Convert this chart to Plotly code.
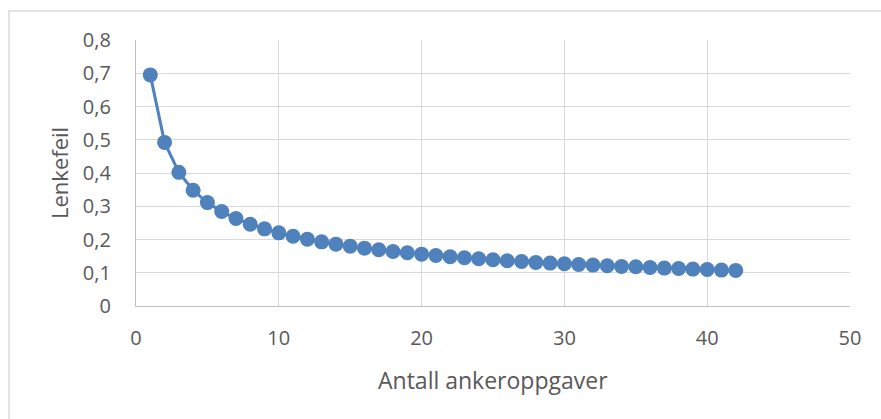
import plotly.graph_objects as go

antall = list(range(1, 43))
lenkefeil = [0.695, 0.492, 0.402, 0.348, 0.311, 0.284, 0.263, 0.246, 0.232, 0.220,
             0.210, 0.201, 0.193, 0.186, 0.180, 0.174, 0.169, 0.164, 0.160, 0.156,
             0.152, 0.148, 0.145, 0.142, 0.139, 0.136, 0.134, 0.131, 0.129, 0.127,
             0.125, 0.123, 0.121, 0.119, 0.118, 0.116, 0.114, 0.113, 0.111, 0.110,
             0.108, 0.107]
x_title = "Antall ankeroppgaver"
y_title = "Lenkefeil"

W, H = 881, 419
L, R, T, B = 136, 31, 40, 113
pw, ph = W - L - R, H - T - B

fig = go.Figure()
fig.add_trace(go.Scatter(
    x=antall, y=lenkefeil, mode="lines+markers",
    line=dict(color="#4f81bd", width=3),
    marker=dict(color="#4f81bd", size=15),
    cliponaxis=False, showlegend=False))

font = dict(family="Open Sans, Liberation Sans, sans-serif", color="#595959")
fig.update_layout(
    width=W, height=H, margin=dict(l=L, r=R, t=T, b=B),
    paper_bgcolor="white", plot_bgcolor="white",
    separators=", ",
    font=font,
    xaxis=dict(range=[0, 50], tick0=0, dtick=10, showgrid=True, gridcolor="#d9d9d9",
               gridwidth=1.3, zeroline=False, showline=True, linecolor="#bfbfbf", linewidth=1.3,
               ticks="", tickfont=dict(size=20, color="#595959"), ticklabelstandoff=14),
    yaxis=dict(range=[0, 0.8], tick0=0, dtick=0.1, showgrid=True, gridcolor="#d9d9d9",
               gridwidth=1.3, zeroline=False, showline=True, linecolor="#bfbfbf", linewidth=1.3,
               ticks="", tickfont=dict(size=20, color="#595959"), tickformat=".1~f",
               ticklabelstandoff=20),
)
fig.add_annotation(text=x_title, xref="paper", yref="paper", showarrow=False,
                   x=0.5, y=-(380 - (H - B)) / ph, xanchor="center", yanchor="middle",
                   font=dict(size=23, color="#595959"))
fig.add_annotation(text=y_title, xref="paper", yref="paper", showarrow=False,
                   x=(59 - L) / pw, y=0.5, xanchor="center", yanchor="middle", textangle=-90,
                   font=dict(size=22, color="#595959"))
fig.add_shape(type="rect", xref="paper", yref="paper",
              x0=(9 - L) / pw, x1=(890 - L) / pw,
              y0=-(430 - (H - B)) / ph, y1=1 + (T - 11) / ph,
              line=dict(color="#d9d9d9", width=1.5), fillcolor="rgba(0,0,0,0)", layer="below")

fig.write_html("out.html")
